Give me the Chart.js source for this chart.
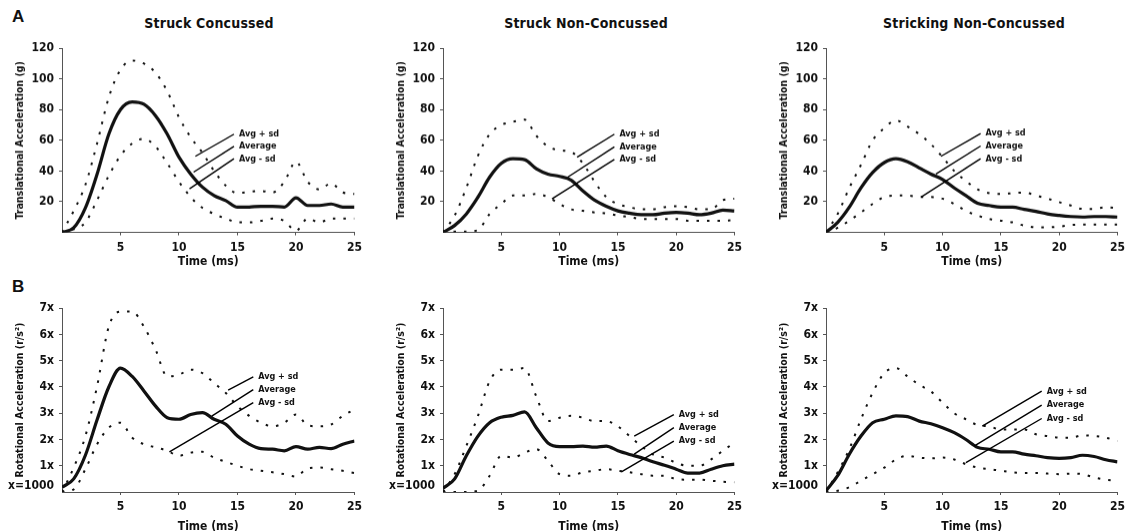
<!DOCTYPE html>
<html>
<head>
<meta charset="utf-8">
<script src="https://cdn.jsdelivr.net/npm/chart.js@4.4.1/dist/chart.umd.min.js"></script>
<style>
  html, body { margin: 0; padding: 0; background: #fff; overflow: hidden; }
  body { width: 1131px; height: 531px; position: relative; }
  .panel { position: absolute; }
  .title {
    position: absolute; transform: translateX(-50%); white-space: nowrap;
    font: bold 14px 'DejaVu Sans Condensed', 'DejaVu Sans', sans-serif;
    letter-spacing: 0.2px; color: #111;
  }
  .letter { position: absolute; font: bold 17px 'Liberation Sans', Arial, sans-serif; color: #111; }
</style>
</head>
<body>
<div class="letter" style="left:12px;top:7px">A</div>
<div class="letter" style="left:12px;top:277px">B</div>
<div class="title" style="left:209px;top:15px">Struck Concussed</div>
<div class="title" style="left:586px;top:15px">Struck Non-Concussed</div>
<div class="title" style="left:974px;top:15px">Stricking Non-Concussed</div>

<script>
// ---- data ----
const time = [0, 1, 2, 3, 4, 5, 6, 7, 8, 9, 10, 11, 12, 13, 14, 15, 16, 17, 18, 19, 20, 21, 22, 23, 24, 25];
const timeTicks = [5, 10, 15, 20, 25];
const transTicks = [20, 40, 60, 80, 100, 120];
const rotTicks = [0.25, 1, 2, 3, 4, 5, 6, 7];
const rotTickLabels = ['x=1000', '1x', '2x', '3x', '4x', '5x', '6x', '7x'];
const bandLabels = ['Avg + sd', 'Average', 'Avg - sd'];

// translational acceleration (g)
const transStruckConcUpper = [0, 14, 31, 58, 88, 106, 112, 110, 104, 92, 75, 62, 52, 40, 30.5, 25.5, 26.5, 27, 26, 33, 46, 33, 28, 32, 26, 25];
const transStruckConcAvg   = [0, 3, 16, 38, 64, 80, 85, 83.5, 76, 64, 49, 38, 29.5, 24, 20.7, 16.4, 16.5, 17, 17, 16.5, 22.5, 17.5, 17.5, 18.5, 16.5, 16.5];
const transStruckConcLower = [0, 2, 6.5, 21, 37, 50, 58, 61, 56, 45, 33, 23, 16, 12, 9, 6.5, 6.5, 7.5, 9, 7.5, 1, 9, 6.5, 9, 9, 9];

const transStruckNonUpper = [0, 11, 29, 50, 64, 70, 72, 73.5, 63, 56, 53.5, 52.4, 45, 33, 23, 18.5, 16.4, 15, 15, 16.4, 17, 16.4, 15, 15, 21, 22];
const transStruckNonAvg   = [0, 4.5, 12, 23, 36, 45, 48, 47.4, 41.5, 38, 36.5, 34, 27, 21, 17, 14, 12.5, 11.5, 11.5, 12.5, 13, 12.5, 11.5, 12.5, 14.5, 14];
const transStruckNonLower = [0, 0.5, 0.5, 1.5, 12, 18.5, 24, 24, 25, 23, 18.5, 15, 14, 13, 12.4, 11, 10, 8.7, 8.7, 8.7, 8.7, 7.6, 7.6, 7.6, 7.6, 8];

const transStrikingUpper = [0, 12, 29, 44, 60, 68, 73, 69, 64, 57.5, 49, 40, 33.5, 28, 25.5, 25, 25.5, 26, 24, 22, 19.7, 17.5, 15.3, 15.3, 16.4, 15.7];
const transStrikingAvg   = [0, 6.5, 16.4, 29, 39, 45.5, 48, 46, 42, 38, 34.5, 29, 24, 19, 17.5, 16.4, 16.4, 15, 13.7, 12, 11, 10.3, 10, 10.3, 10.3, 10];
const transStrikingLower = [0, 3, 7.6, 13, 18.5, 23, 24, 24, 23, 23, 22, 18.5, 14, 11, 8.7, 7.6, 6.5, 4.4, 3.3, 3.3, 3.7, 4.8, 5, 5, 5, 5];

// rotational acceleration (x1000 r/s^2)
const rotStruckConcUpper = [0, 0.93, 2.13, 4.03, 6.3, 6.87, 6.87, 6.3, 5.42, 4.4, 4.47, 4.66, 4.53, 4.15, 3.77, 3.27, 2.9, 2.64, 2.5, 2.64, 2.95, 2.54, 2.5, 2.57, 2.9, 3.14];
const rotStruckConcAvg   = [0.18, 0.5, 1.4, 2.75, 4.0, 4.72, 4.4, 3.85, 3.27, 2.83, 2.77, 2.95, 3.02, 2.77, 2.58, 2.13, 1.82, 1.65, 1.63, 1.57, 1.73, 1.63, 1.7, 1.65, 1.82, 1.94];
const rotStruckConcLower = [0, 0.1, 0.87, 1.82, 2.45, 2.64, 2.07, 1.82, 1.7, 1.57, 1.38, 1.5, 1.53, 1.31, 1.15, 1.0, 0.87, 0.81, 0.75, 0.68, 0.59, 0.9, 0.93, 0.87, 0.81, 0.72];

const rotStruckNonUpper = [0, 0.68, 1.75, 2.9, 4.22, 4.66, 4.66, 4.72, 3.64, 2.7, 2.83, 2.9, 2.83, 2.7, 2.7, 2.5, 2.13, 1.75, 1.43, 1.31, 1.11, 1.0, 1.0, 1.24, 1.57, 1.88];
const rotStruckNonAvg   = [0.14, 0.5, 1.38, 2.13, 2.64, 2.85, 2.92, 3.05, 2.45, 1.87, 1.73, 1.73, 1.75, 1.71, 1.75, 1.57, 1.43, 1.31, 1.15, 1.02, 0.87, 0.72, 0.72, 0.87, 1.0, 1.06];
const rotStruckNonLower = [0, 0, 0, 0.05, 0.62, 1.38, 1.31, 1.5, 1.63, 1.19, 0.68, 0.62, 0.75, 0.81, 0.87, 0.81, 0.75, 0.68, 0.62, 0.62, 0.49, 0.47, 0.47, 0.43, 0.39, 0.37];

const rotStrikingUpper = [0, 0.75, 1.63, 2.77, 3.78, 4.53, 4.72, 4.4, 4.08, 3.83, 3.4, 3.0, 2.77, 2.55, 2.5, 2.38, 2.38, 2.38, 2.2, 2.13, 2.07, 2.07, 2.16, 2.13, 2.07, 1.94];
const rotStrikingAvg   = [0.05, 0.62, 1.44, 2.13, 2.64, 2.77, 2.9, 2.87, 2.7, 2.6, 2.45, 2.26, 2.0, 1.7, 1.63, 1.53, 1.53, 1.44, 1.38, 1.31, 1.28, 1.31, 1.4, 1.35, 1.23, 1.15];
const rotStrikingLower = [0, 0.05, 0.18, 0.43, 0.68, 0.93, 1.24, 1.38, 1.31, 1.28, 1.31, 1.24, 1.06, 0.93, 0.87, 0.81, 0.75, 0.72, 0.72, 0.7, 0.68, 0.7, 0.68, 0.55, 0.47, 0.43];

// ---- layout ----
const FONT = "'DejaVu Sans Condensed', 'DejaVu Sans', sans-serif";
const INK = '#111';
const AXIS = '#555';
const AXIS_W = 62, PAD_TOP = 12, PAD_RIGHT = 10;
const xAxisH = [38, 41];
const colLeft = [62, 443, 826];
const colRight = [357, 737, 1120];
const rowTop = [48, 308];
const rowBottom = [231.5, 492];

Chart.defaults.font.family = FONT;
Chart.defaults.color = INK;

// leader lines for the three labels, in data units: [x1, y1, x2, y2]
const panels = [
  { col: 0, row: 0, upper: transStruckConcUpper, avg: transStruckConcAvg, lower: transStruckConcLower,
    leaders: [[11.4, 49.6, 14.7, 64], [11.25, 39.3, 14.7, 56], [10.9, 28.4, 14.7, 48]] },
  { col: 1, row: 0, upper: transStruckNonUpper, avg: transStruckNonAvg, lower: transStruckNonLower,
    leaders: [[11.5, 49, 14.7, 64], [10.7, 36, 14.7, 55.7], [9.35, 21.8, 14.7, 47.6]] },
  { col: 2, row: 0, upper: transStrikingUpper, avg: transStrikingAvg, lower: transStrikingLower,
    leaders: [[9.86, 49.6, 13.26, 64.4], [9.43, 38, 13.26, 56.3], [8.16, 23, 13.26, 48]] },
  { col: 0, row: 1, upper: rotStruckConcUpper, avg: rotStruckConcAvg, lower: rotStruckConcLower,
    leaders: [[14.2, 3.88, 16.35, 4.38], [12.8, 2.89, 16.35, 3.9], [9.18, 1.53, 16.35, 3.4]] },
  { col: 1, row: 1, upper: rotStruckNonUpper, avg: rotStruckNonAvg, lower: rotStruckNonLower,
    leaders: [[16.4, 2.13, 19.8, 2.95], [16.4, 1.44, 19.8, 2.45], [15.3, 0.77, 19.8, 1.94]] },
  { col: 2, row: 1, upper: rotStrikingUpper, avg: rotStrikingAvg, lower: rotStrikingLower,
    leaders: [[13.4, 2.51, 18.5, 3.84], [12.7, 1.75, 18.5, 3.31], [12.0, 1.12, 18.5, 2.8]] }
];

// draws the "Avg + sd / Average / Avg - sd" callouts
const leaderPlugin = {
  id: 'leaders',
  afterDatasetsDraw(chart, args, opts) {
    const { ctx } = chart;
    const x = chart.scales.x, y = chart.scales.y;
    ctx.save();
    ctx.strokeStyle = '#000';
    ctx.lineWidth = 1.4;
    ctx.fillStyle = INK;
    ctx.font = 'bold 9px ' + FONT;
    ctx.textBaseline = 'middle';
    opts.lines.forEach((l, i) => {
      const x1 = x.getPixelForValue(l[0]), y1 = y.getPixelForValue(l[1]);
      const x2 = x.getPixelForValue(l[2]), y2 = y.getPixelForValue(l[3]);
      ctx.beginPath();
      ctx.moveTo(x1, y1);
      ctx.lineTo(x2, y2);
      ctx.stroke();
      ctx.fillText(bandLabels[i], x2 + 5, y2);
    });
    ctx.restore();
  }
};

function points(values) {
  return time.map((t, i) => ({ x: t, y: values[i] }));
}

function makePanel(p) {
  const isRot = p.row === 1;
  const axisH = xAxisH[p.row];
  const box = document.createElement('div');
  box.className = 'panel';
  box.style.left = (colLeft[p.col] - AXIS_W) + 'px';
  box.style.top = (rowTop[p.row] - PAD_TOP) + 'px';
  box.style.width = (colRight[p.col] - colLeft[p.col] + AXIS_W + PAD_RIGHT) + 'px';
  box.style.height = (rowBottom[p.row] - rowTop[p.row] + PAD_TOP + axisH) + 'px';
  const canvas = document.createElement('canvas');
  box.appendChild(canvas);
  document.body.appendChild(box);

  const dotted = { borderColor: INK, borderWidth: 2, borderDash: [2.5, 8], pointRadius: 0, cubicInterpolationMode: 'monotone' };

  new Chart(canvas, {
    type: 'line',
    data: {
      datasets: [
        Object.assign({ label: 'Avg + sd', data: points(p.upper) }, dotted),
        { label: 'Average', data: points(p.avg), borderColor: INK, borderWidth: 3.2, pointRadius: 0, cubicInterpolationMode: 'monotone' },
        Object.assign({ label: 'Avg - sd', data: points(p.lower) }, dotted)
      ]
    },
    options: {
      responsive: true,
      maintainAspectRatio: false,
      animation: false,
      events: [],
      layout: { padding: { top: PAD_TOP, right: PAD_RIGHT, left: 0, bottom: 0 } },
      plugins: {
        legend: { display: false },
        tooltip: { enabled: false },
        leaders: { lines: p.leaders }
      },
      scales: {
        x: {
          type: 'linear',
          min: 0,
          max: 25,
          afterBuildTicks: s => { s.ticks = timeTicks.map(v => ({ value: v })); },
          afterFit: s => { s.height = axisH; },
          border: { color: AXIS, width: 1 },
          grid: { drawOnChartArea: false, color: AXIS, tickLength: 3 },
          ticks: { padding: 5, maxRotation: 0, font: { size: 12, weight: 'bold' }, color: INK },
          title: { display: true, text: 'Time (ms)', font: { size: 12, weight: 'bold', lineHeight: 1 }, color: INK,
                   padding: { top: 0, bottom: isRot ? 0 : 3 } }
        },
        y: {
          min: 0,
          max: isRot ? 7 : 120,
          afterBuildTicks: s => { s.ticks = (isRot ? rotTicks : transTicks).map(v => ({ value: v })); },
          afterFit: s => { s.width = AXIS_W; },
          border: { color: AXIS, width: 1 },
          grid: {
            drawOnChartArea: false, tickLength: 3,
            color: c => (c.tick && c.tick.value < 1 && isRot) ? 'rgba(0,0,0,0)' : AXIS
          },
          ticks: {
            padding: 5,
            font: { size: 12, weight: 'bold' },
            color: INK,
            callback: v => isRot ? rotTickLabels[rotTicks.indexOf(v)] : String(v)
          },
          title: {
            display: true,
            text: isRot ? 'Rotational Acceleration (r/s²)' : 'Translational Acceleration (g)',
            font: { size: 10.5, weight: 'bold', lineHeight: 1.2 },
            color: INK,
            padding: { top: 14, bottom: 0 }
          }
        }
      }
    },
    plugins: [leaderPlugin]
  });
}

panels.forEach(makePanel);
</script>
</body>
</html>
